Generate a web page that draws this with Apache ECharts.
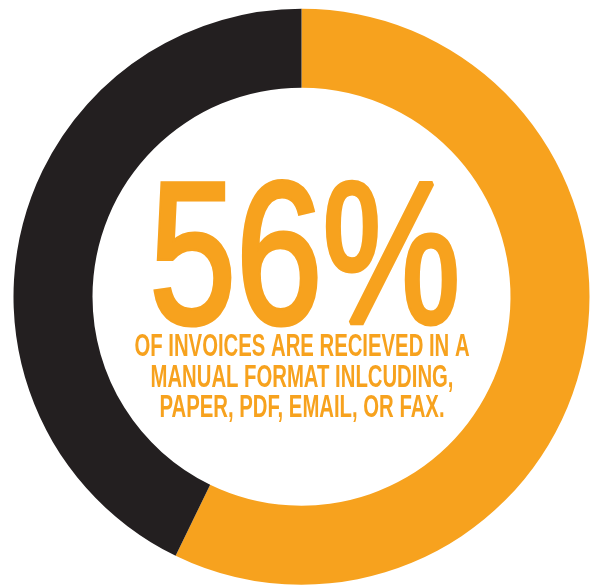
<!DOCTYPE html>
<html>
<head>
<meta charset="utf-8">
<script src="https://cdn.jsdelivr.net/npm/echarts@6/dist/echarts.min.js"></script>
<style>
html,body{margin:0;padding:0;background:#fff;}
#chart{width:596px;height:586px;}
</style>
</head>
<body>
<div id="chart"></div>
<script>
// Data
var categories = ['Manual format', 'Other'];
var values = [57.2, 42.8];
var colors = ['#F7A21E', '#231F20'];
var headline = '56%';
var captionLines = [
  'OF INVOICES ARE RECIEVED IN A',
  'MANUAL FORMAT INLCUDING,',
  'PAPER, PDF, EMAIL, OR FAX.'
];

var chart = echarts.init(document.getElementById('chart'), null, {renderer: 'canvas'});

var cx = 301.5, cy = 296.7;
var graphics = [{
  type: 'text',
  x: 305, y: 267,
  scaleX: 0.785, scaleY: 1.02,
  style: {
    text: headline,
    fill: colors[0],
    stroke: colors[0],
    lineWidth: 5,
    font: '198px "Liberation Sans", sans-serif',
    textAlign: 'center',
    textVerticalAlign: 'middle'
  }
}];
var lineY = [347, 378, 408];
captionLines.forEach(function (t, i) {
  graphics.push({
    type: 'text',
    x: 302, y: lineY[i],
    scaleX: 0.655, scaleY: 1,
    style: {
      text: t,
      fill: colors[0],
      font: 'bold 31px "Liberation Sans", sans-serif',
      textAlign: 'center',
      textVerticalAlign: 'middle'
    }
  });
});

chart.setOption({
  animation: false,
  backgroundColor: '#ffffff',
  series: [{
    type: 'pie',
    center: [cx, cy],
    radius: [209, 288],
    startAngle: 90,
    clockwise: true,
    silent: true,
    label: {show: false},
    labelLine: {show: false},
    itemStyle: {borderWidth: 0},
    data: categories.map(function (c, i) {
      return {name: c, value: values[i], itemStyle: {color: colors[i]}};
    })
  }],
  graphic: graphics
});
</script>
</body>
</html>
